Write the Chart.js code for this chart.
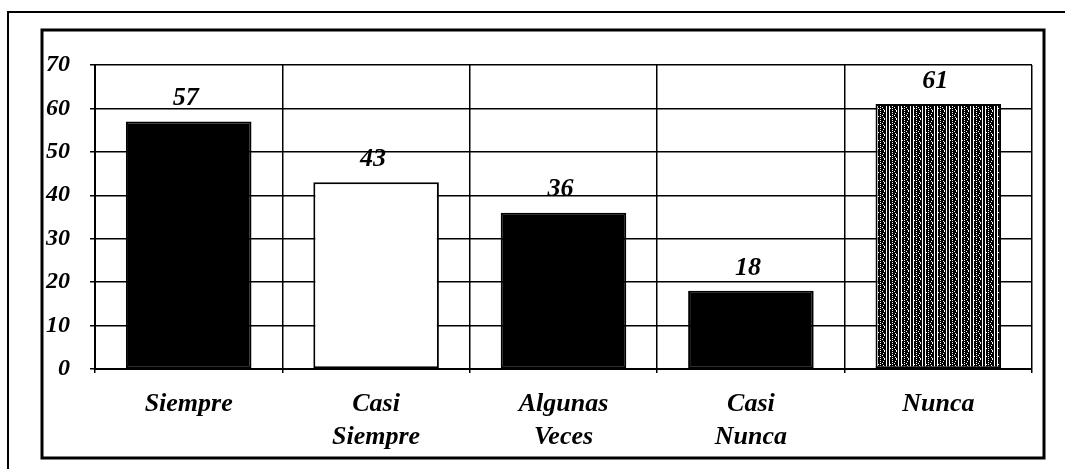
<!DOCTYPE html>
<html>
<head>
<meta charset="utf-8">
<script src="https://cdn.jsdelivr.net/npm/chart.js@4.4.1/dist/chart.umd.min.js"></script>
<style>
  html, body { margin: 0; padding: 0; background: #fff; }
  #wrap { width: 1065px; height: 469px; }
</style>
</head>
<body>
<div id="wrap"><canvas id="myChart" width="1065" height="469"></canvas></div>
<script>
const categorias = [['Siempre'], ['Casi', 'Siempre'], ['Algunas', 'Veces'], ['Casi', 'Nunca'], ['Nunca']];
const frecuencias = [57, 43, 36, 18, 61];
const yTicks = [0, 10, 20, 30, 40, 50, 60, 70];

// trama gris oscura de la barra "Nunca"
function hacerTrama() {
    const filas = [
        '#.##.#####.#',
        '#.#####.##.#',
        '#.##.#####.#',
        '#.####.###.#',
        '#..#.#####.#',
        '#.#####.##.#',
        '#.##.###.#.#',
        '#.######.#.#'
    ];
    const c = document.createElement('canvas');
    c.width = filas[0].length;
    c.height = filas.length;
    const g = c.getContext('2d');
    g.fillStyle = '#fff';
    g.fillRect(0, 0, c.width, c.height);
    g.fillStyle = '#000';
    filas.forEach((f, y) => {
        for (let x = 0; x < f.length; x++) {
            if (f[x] === '#') g.fillRect(x, y, 1, 1);
        }
    });
    return document.querySelector('#myChart').getContext('2d').createPattern(c, 'repeat');
}

const marcos = {
    id: 'marcos',
    beforeDraw(chart) {
        const ctx = chart.ctx;
        ctx.save();
        ctx.fillStyle = '#fff';
        ctx.fillRect(0, 0, chart.width, chart.height);
        ctx.strokeStyle = '#000';
        ctx.lineWidth = 2;
        ctx.beginPath();
        ctx.moveTo(8, 469);
        ctx.lineTo(8, 12);
        ctx.lineTo(1065, 12);
        ctx.stroke();
        ctx.lineWidth = 3;
        ctx.strokeRect(42, 30, 1002, 428);
        ctx.restore();
    }
};

const etiquetas = {
    id: 'etiquetas',
    afterDatasetsDraw(chart) {
        const ctx = chart.ctx;
        const meta = chart.getDatasetMeta(0);
        ctx.save();
        ctx.font = 'italic bold 26px "Liberation Serif"';
        ctx.fillStyle = '#000';
        ctx.textAlign = 'center';
        ctx.textBaseline = 'bottom';
        meta.data.forEach((bar, i) => {
            ctx.fillText(String(frecuencias[i]), bar.x - 3, bar.y - 10);
        });
        ctx.restore();
    }
};

const ctx = document.querySelector('#myChart').getContext('2d');
const trama = hacerTrama();

const myChart = new Chart(ctx, {
    type: 'bar',
    data: {
        labels: categorias,
        datasets: [{
            data: frecuencias,
            backgroundColor: ['#000', '#fff', '#000', '#000', trama],
            borderColor: '#000',
            borderWidth: 2,
            borderSkipped: false,
            barPercentage: 0.67,
            categoryPercentage: 1
        }]
    },
    options: {
        responsive: false,
        animation: false,
        layout: { padding: { top: 65, right: 33, bottom: 0, left: 0 } },
        plugins: {
            legend: { display: false },
            tooltip: { enabled: false }
        },
        scales: {
            x: {
                grid: { offset: true, color: '#000', lineWidth: 1.5, tickLength: 4 },
                border: { color: '#000', width: 2 },
                ticks: {
                    color: '#000',
                    padding: 14,
                    maxRotation: 0,
                    font: { family: 'Liberation Serif', size: 26, style: 'italic', weight: 'bold', lineHeight: 1.3 }
                },
                afterFit(scale) { scale.height = 100; }
            },
            y: {
                min: 0,
                max: 70,
                afterBuildTicks(scale) { scale.ticks = yTicks.map(v => ({ value: v })); },
                grid: { color: '#000', lineWidth: 1.5, tickLength: 5 },
                border: { color: '#000', width: 2 },
                ticks: {
                    color: '#000',
                    padding: 20,
                    font: { family: 'Liberation Serif', size: 24, style: 'italic', weight: 'bold' }
                },
                afterFit(scale) { scale.width = 95; }
            }
        }
    },
    plugins: [marcos, etiquetas]
});
</script>
</body>
</html>
